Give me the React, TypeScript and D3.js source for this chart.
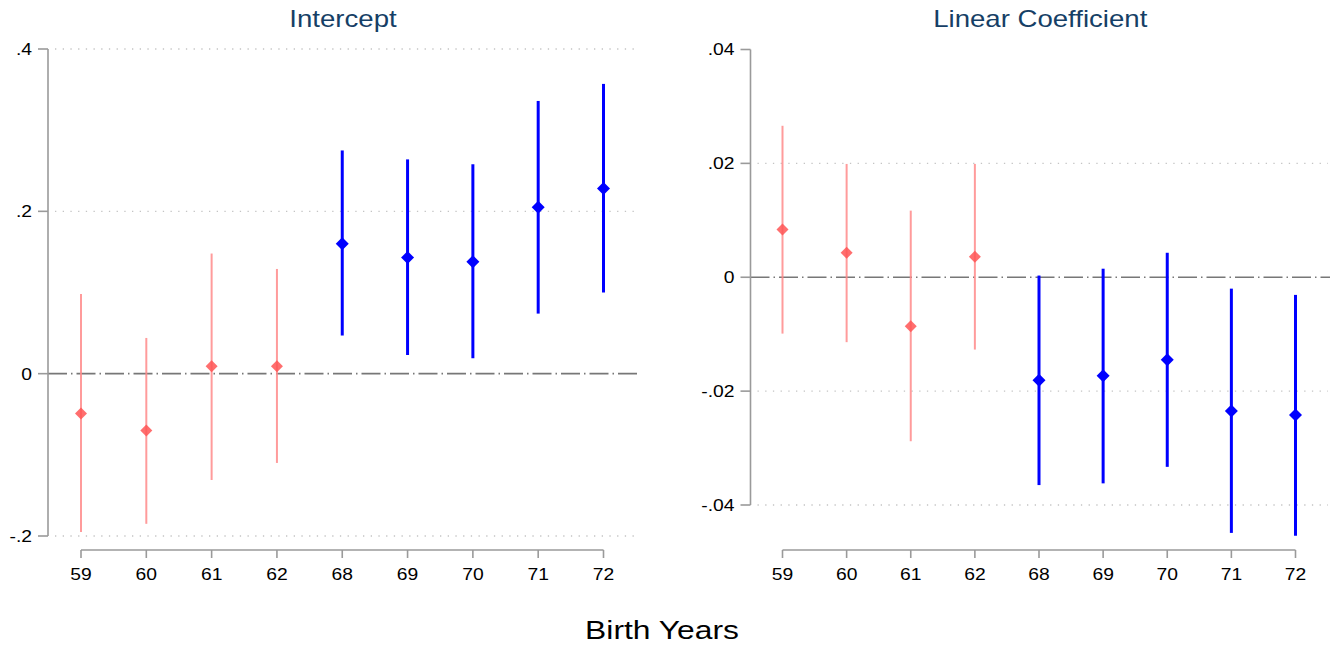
import * as d3 from "d3";

// birth cohorts on the x axis
const years = ["59", "60", "61", "62", "68", "69", "70", "71", "72"];
const cohort = ["pre", "pre", "pre", "pre", "post", "post", "post", "post", "post"];

// intercept estimates and 95% CI
const interceptEst = [-0.049, -0.07, 0.009, 0.009, 0.16, 0.143, 0.138, 0.205, 0.228];
const interceptLo = [-0.195, -0.185, -0.131, -0.11, 0.047, 0.023, 0.019, 0.074, 0.1];
const interceptHi = [0.098, 0.044, 0.148, 0.129, 0.275, 0.264, 0.258, 0.336, 0.357];
const interceptTicks = [-0.2, 0, 0.2, 0.4];
const interceptGrid = [-0.2, 0.2, 0.4];

// linear coefficient estimates and 95% CI
const linearEst = [0.0084, 0.0043, -0.0086, 0.0036, -0.0181, -0.0173, -0.0145, -0.0235, -0.0242];
const linearLo = [-0.0099, -0.0114, -0.0288, -0.0127, -0.0365, -0.0362, -0.0333, -0.0449, -0.0454];
const linearHi = [0.0266, 0.0199, 0.0117, 0.0199, 0.0003, 0.0015, 0.0043, -0.002, -0.0031];
const linearTicks = [-0.04, -0.02, 0, 0.02, 0.04];
const linearGrid = [-0.04, -0.02, 0.02];

const FONT = "'Liberation Sans', Arial, sans-serif";

// stata style: .4, -.02
const fmt = (v: number) => {
  if (v === 0) return "0";
  const s = String(+v.toFixed(3));
  return s.replace(/^(-?)0\./, "$1.");
};

// the original's lettering is a bit wider than Arial, so stretch it a little
function Label(props: {
  x: number;
  y: number;
  size: number;
  sx?: number;
  anchor?: "start" | "middle" | "end";
  fill?: string;
  dy?: string;
  children: React.ReactNode;
}) {
  const { x, y, size, sx = 1.17, anchor = "middle", fill = "#000", dy } = props;
  return (
    <text
      transform={`translate(${x},${y}) scale(${sx},1)`}
      textAnchor={anchor}
      fontSize={size}
      fontFamily={FONT}
      fill={fill}
      dy={dy}
    >
      {props.children}
    </text>
  );
}

type PanelProps = {
  title: string;
  est: number[];
  lo: number[];
  hi: number[];
  ticks: number[];
  grid: number[];
  axisX: number;
  xRange: [number, number];
  yDomain: [number, number];
  yRange: [number, number];
  plotRight: number;
};

function Panel(p: PanelProps) {
  const x = d3.scalePoint<string>().domain(years).range(p.xRange);
  const y = d3.scaleLinear().domain(p.yDomain).range(p.yRange);
  const axisY = 550;
  const diamond = (cx: number, cy: number, r: number) =>
    `M${cx},${cy - r}L${cx + r},${cy}L${cx},${cy + r}L${cx - r},${cy}Z`;

  return (
    <g>
      <Label x={(p.axisX + p.plotRight) / 2} y={27} size={23} sx={1.2} fill="#163f66">
        {p.title}
      </Label>

      {/* gridlines */}
      {p.grid.map((g) => (
        <line
          key={g}
          x1={p.axisX + 7}
          x2={p.plotRight - 2}
          y1={y(g)}
          y2={y(g)}
          stroke="#c4c4c4"
          strokeWidth={1.3}
          strokeDasharray="1.3 6.4"
        />
      ))}

      {/* zero reference */}
      <line
        x1={p.axisX}
        x2={p.plotRight}
        y1={y(0)}
        y2={y(0)}
        stroke="#777"
        strokeWidth={1.6}
        strokeDasharray="19 4 1.5 4"
      />

      {/* y axis */}
      <line x1={p.axisX} x2={p.axisX} y1={y(p.yDomain[1])} y2={y(p.yDomain[0])} stroke="#9a9a9a" strokeWidth={1.6} />
      {p.ticks.map((t) => (
        <g key={t}>
          <line x1={p.axisX - 10} x2={p.axisX} y1={y(t)} y2={y(t)} stroke="#9a9a9a" strokeWidth={1.6} />
          <Label x={p.axisX - 16} y={y(t)} size={16.5} sx={1.17} anchor="end" dy="0.36em">
            {fmt(t)}
          </Label>
        </g>
      ))}

      {/* x axis */}
      <line x1={p.xRange[0]} x2={p.xRange[1]} y1={axisY} y2={axisY} stroke="#9a9a9a" strokeWidth={1.6} />
      {years.map((yr) => (
        <g key={yr}>
          <line x1={x(yr)} x2={x(yr)} y1={axisY} y2={axisY + 8} stroke="#9a9a9a" strokeWidth={1.6} />
          <Label x={x(yr) as number} y={580} size={16.5} sx={1.17}>
            {yr}
          </Label>
        </g>
      ))}

      {/* estimates */}
      {years.map((yr, i) => {
        const pre = cohort[i] === "pre";
        const cx = x(yr) as number;
        return (
          <g key={yr}>
            <line
              x1={cx}
              x2={cx}
              y1={y(p.hi[i])}
              y2={y(p.lo[i])}
              stroke={pre ? "#ff8a8a" : "#0000ff"}
              strokeOpacity={pre ? 0.85 : 1}
              strokeWidth={pre ? 2 : 3}
            />
            <path
              d={diamond(cx, y(p.est[i]), pre ? 6 : 6.5)}
              fill={pre ? "#ff5555" : "#0000ff"}
              fillOpacity={pre ? 0.85 : 1}
            />
          </g>
        );
      })}
    </g>
  );
}

export default function App() {
  return (
    <svg
      width={1332}
      height={645}
      style={{ position: "absolute", left: 0, top: 0, background: "#fff" }}
    >
      <Panel
        title="Intercept"
        est={interceptEst}
        lo={interceptLo}
        hi={interceptHi}
        ticks={interceptTicks}
        grid={interceptGrid}
        axisX={48}
        xRange={[81, 603.5]}
        yDomain={[-0.2, 0.4]}
        yRange={[536, 49]}
        plotRight={638}
      />
      <Panel
        title="Linear Coefficient"
        est={linearEst}
        lo={linearLo}
        hi={linearHi}
        ticks={linearTicks}
        grid={linearGrid}
        axisX={750.5}
        xRange={[782.5, 1295.5]}
        yDomain={[-0.04, 0.04]}
        yRange={[505, 49.5]}
        plotRight={1330}
      />
      <Label x={662} y={639} size={26.5} sx={1.2}>
        Birth Years
      </Label>
    </svg>
  );
}
